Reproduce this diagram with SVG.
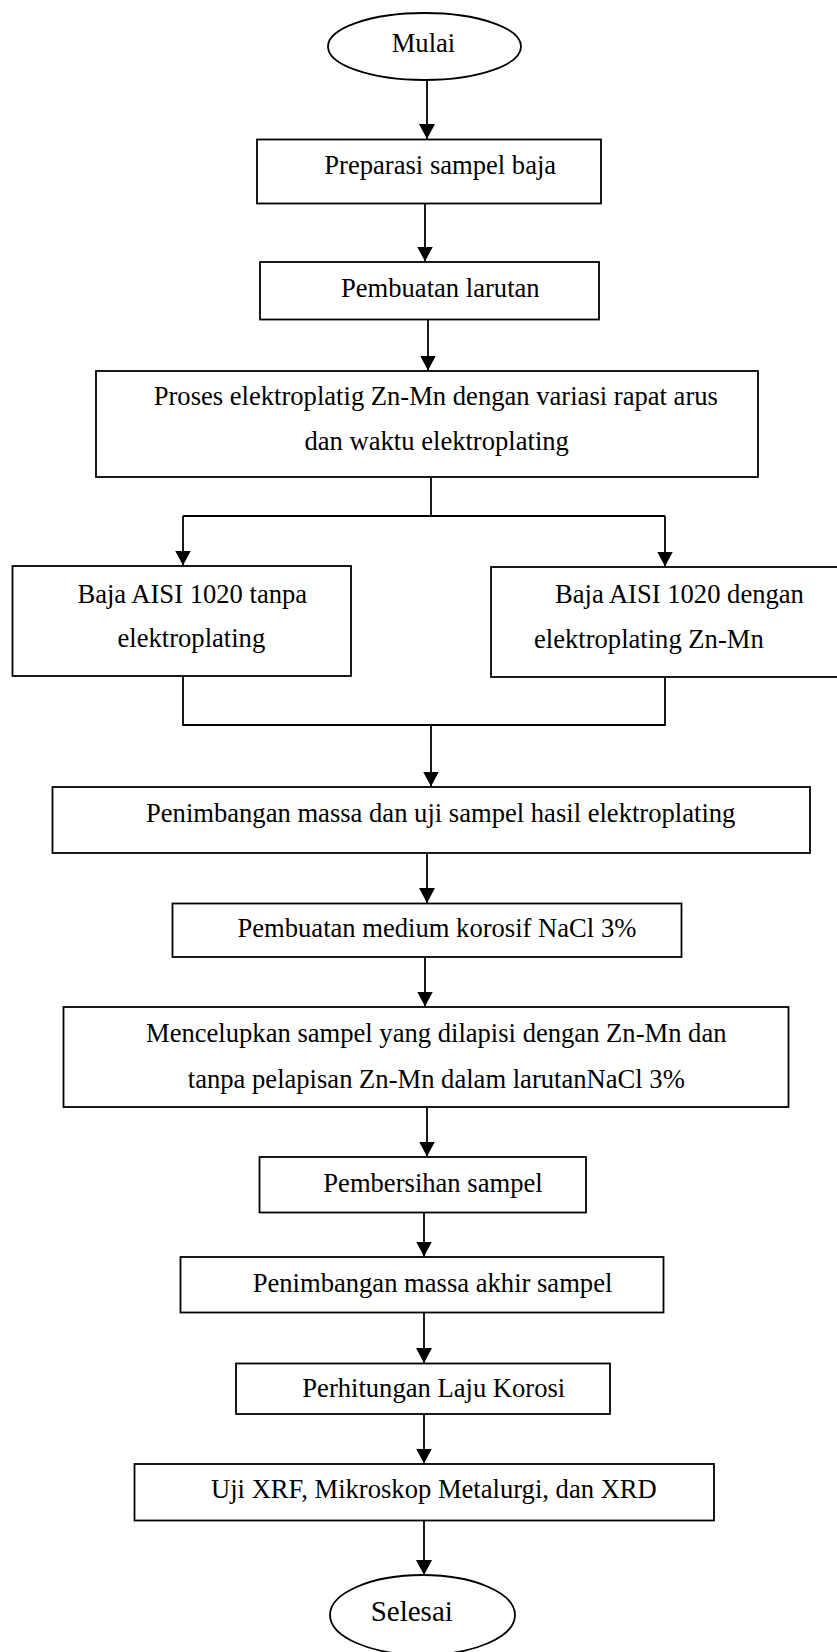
<svg xmlns="http://www.w3.org/2000/svg" width="837" height="1652" viewBox="0 0 837 1652">
<style>
.box{fill:#fff;stroke:#000;stroke-width:1.8}
.t{font-family:"Liberation Serif","Times New Roman",serif;font-size:26.6px;fill:#000}
.c{fill:none;stroke:#000;stroke-width:1.8}
</style>
<defs>
<marker id="ah" viewBox="0 0 15 16" refX="15" refY="8" markerWidth="15" markerHeight="16" markerUnits="userSpaceOnUse" orient="auto">
<path d="M0,0 L15,8 L0,16 z" fill="#000"/>
</marker>
</defs>
<rect width="837" height="1652" fill="#fff"/>
<g id="connectors">
<path class="c" d="M427,80 V139" marker-end="url(#ah)"/>
<path class="c" d="M425,203.5 V261.5" marker-end="url(#ah)"/>
<path class="c" d="M428,319.5 V370.5" marker-end="url(#ah)"/>
<path class="c" d="M431,477 V516"/>
<path class="c" d="M183,516 H665"/>
<path class="c" d="M183,516 V565.5" marker-end="url(#ah)"/>
<path class="c" d="M665,516 V566.5" marker-end="url(#ah)"/>
<path class="c" d="M183,676 V725 H665 V677"/>
<path class="c" d="M431,725 V786.5" marker-end="url(#ah)"/>
<path class="c" d="M427,853 V903" marker-end="url(#ah)"/>
<path class="c" d="M425,957 V1006.5" marker-end="url(#ah)"/>
<path class="c" d="M427,1107 V1156.5" marker-end="url(#ah)"/>
<path class="c" d="M424,1212.5 V1256.5" marker-end="url(#ah)"/>
<path class="c" d="M424,1312.5 V1363" marker-end="url(#ah)"/>
<path class="c" d="M424,1414 V1463.5" marker-end="url(#ah)"/>
<path class="c" d="M424,1520.5 V1575" marker-end="url(#ah)"/>
</g>
<g id="mulai">
<ellipse class="box" cx="424.5" cy="46.5" rx="96.5" ry="33.5"/>
<text class="t" x="391.7" y="52">Mulai</text>
</g>
<g id="preparasi">
<rect class="box" x="257" y="139.5" width="344" height="64"/>
<text class="t" x="324.3" y="174">Preparasi sampel baja</text>
</g>
<g id="pembuatan-larutan">
<rect class="box" x="260" y="262" width="339" height="57.5"/>
<text class="t" x="341" y="296.7">Pembuatan larutan</text>
</g>
<g id="proses">
<rect class="box" x="96" y="371" width="662" height="106"/>
<text class="t" x="153.7" y="405">Proses elektroplatig Zn-Mn dengan variasi rapat arus</text>
<text class="t" x="304.5" y="450">dan waktu elektroplating</text>
</g>
<g id="baja-tanpa">
<rect class="box" x="12.5" y="566" width="338.5" height="110"/>
<text class="t" x="77.4" y="603">Baja AISI 1020 tanpa</text>
<text class="t" x="117.5" y="646.7">elektroplating</text>
</g>
<g id="baja-dengan">
<rect class="box" x="491" y="567" width="350" height="110"/>
<text class="t" x="555" y="603">Baja AISI 1020 dengan</text>
<text class="t" x="534" y="648">elektroplating Zn-Mn</text>
</g>
<g id="penimbangan-uji">
<rect class="box" x="52.5" y="787" width="757.5" height="66"/>
<text class="t" x="146" y="821.7">Penimbangan massa dan uji sampel hasil elektroplating</text>
</g>
<g id="medium">
<rect class="box" x="172.5" y="903.5" width="509" height="53.5"/>
<text class="t" x="237.5" y="936.7">Pembuatan medium korosif NaCl 3%</text>
</g>
<g id="mencelupkan">
<rect class="box" x="63.5" y="1007" width="725" height="100"/>
<text class="t" x="146" y="1041.7">Mencelupkan sampel yang dilapisi dengan Zn-Mn dan</text>
<text class="t" x="187.8" y="1088.3">tanpa pelapisan Zn-Mn dalam larutanNaCl 3%</text>
</g>
<g id="pembersihan">
<rect class="box" x="259.5" y="1157" width="326.5" height="55.5"/>
<text class="t" x="323.3" y="1191.7">Pembersihan sampel</text>
</g>
<g id="penimbangan-akhir">
<rect class="box" x="180.5" y="1257" width="483" height="55.5"/>
<text class="t" x="252.7" y="1291.7">Penimbangan massa akhir sampel</text>
</g>
<g id="perhitungan">
<rect class="box" x="236" y="1363.5" width="374" height="50.5"/>
<text class="t" x="302.3" y="1396.7">Perhitungan Laju Korosi</text>
</g>
<g id="uji">
<rect class="box" x="134.5" y="1464" width="579.5" height="56.5"/>
<text class="t" x="211" y="1498.3">Uji XRF, Mikroskop Metalurgi, dan XRD</text>
</g>
<g id="selesai">
<ellipse class="box" cx="422.5" cy="1615" rx="92.5" ry="40"/>
<text class="t" x="370.7" y="1620.7" style="font-size:29px">Selesai</text>
</g>
</svg>
